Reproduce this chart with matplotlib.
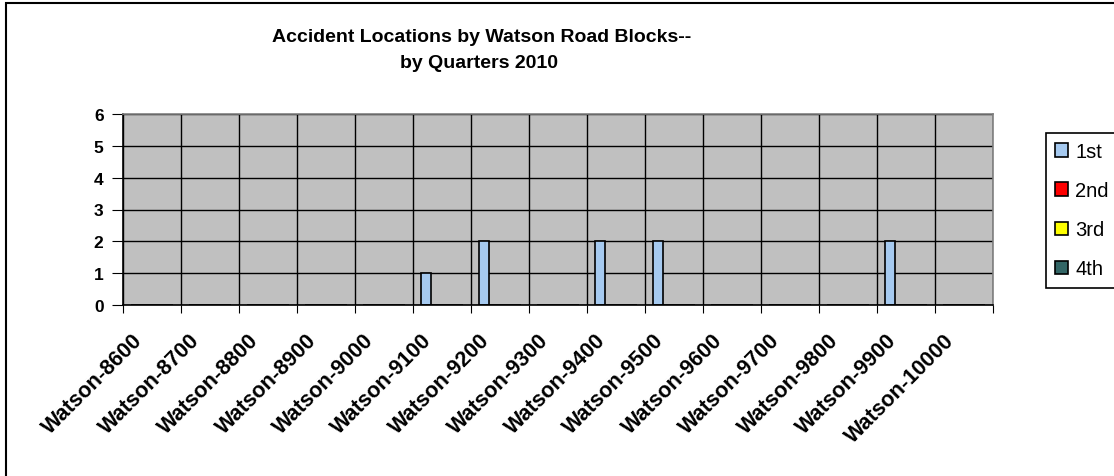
import numpy as np
import matplotlib
matplotlib.use("Agg")
import matplotlib.pyplot as plt
import matplotlib.transforms as mtransforms
from matplotlib.patches import Rectangle

plt.rcParams['font.family'] = ['Liberation Sans', 'DejaVu Sans']

blocks = ['Watson-8600', 'Watson-8700', 'Watson-8800', 'Watson-8900', 'Watson-9000',
          'Watson-9100', 'Watson-9200', 'Watson-9300', 'Watson-9400', 'Watson-9500',
          'Watson-9600', 'Watson-9700', 'Watson-9800', 'Watson-9900', 'Watson-10000']
quarters = ['1st', '2nd', '3rd', '4th']
q1 = [0, 0, 0, 0, 0, 1, 2, 0, 2, 2, 0, 0, 0, 2, 0]
q2 = [0] * 15
q3 = [0] * 15
q4 = [0] * 15
colors = ['#A6CAF0', '#FF0000', '#FFFF00', '#336666']

W, H = 1114, 477
fig = plt.figure(figsize=(W / 100, H / 100), dpi=100)
ax = fig.add_axes([123 / W, 1 - 306 / H, (993 - 123) / W, (306 - 115) / H])
ax.set_facecolor('#C0C0C0')

# chart outer border, cut off at right and bottom like the reference
fig.patches.append(Rectangle((6 / W, -0.1), 1.2, 1.1 - 4 / H, transform=fig.transFigure,
                             fill=False, edgecolor='black', linewidth=1.5))

x = np.arange(len(blocks))
n = len(quarters)
bw = 1 / (n + 1.5)
start = 0.75 * bw
for i, (name, vals) in enumerate(zip(quarters, [q1, q2, q3, q4])):
    ax.bar(x + start + i * bw, vals, width=bw, align='edge', color=colors[i],
           edgecolor='black', linewidth=1.2, label=name, zorder=3)

ax.set_xlim(0, len(blocks))
ax.set_ylim(0, 6)
ax.set_xticks(np.arange(len(blocks) + 1))
ax.set_xticklabels([])
ax.set_xticks(x + 0.5, minor=True)
ax.set_xticklabels(blocks, minor=True, rotation=45, ha='right', va='center',
                   rotation_mode='anchor', fontsize=15.5, fontweight='bold')
ax.tick_params(axis='x', which='minor', length=0, pad=23)
ax.tick_params(axis='x', which='major', length=6, direction='out', color='black')
ax.set_yticks(range(7))
ax.set_yticklabels([str(v) for v in range(7)], fontsize=12.5, fontweight='bold')
ax.tick_params(axis='y', length=8, direction='out', pad=6)
ax.grid(True, which='major', color='black', linewidth=1, zorder=1)
ax.set_axisbelow(True)

for side in ['top', 'right']:
    ax.spines[side].set_color('#808080')
ax.spines['left'].set_color('black')
ax.spines['bottom'].set_color('black')
for s in ax.spines.values():
    s.set_linewidth(1.2)
    s.set_zorder(4)

# category labels sit a bit left of the category centre
offset = mtransforms.ScaledTranslation(-13 / 100, 0, fig.dpi_scale_trans)
for lab in ax.get_xticklabels(minor=True):
    lab.set_transform(lab.get_transform() + offset)

fig.text(482 / W, 1 - 37 / H, 'Accident Locations by Watson Road Blocks--', ha='center',
         va='center', fontsize=14, fontweight='bold')
fig.text(479 / W, 1 - 63 / H, 'by Quarters 2010', ha='center', va='center',
         fontsize=14, fontweight='bold')

leg = fig.legend(loc='upper left', bbox_to_anchor=(1046 / W, 1 - 134 / H), fontsize=14.5,
                 frameon=True, fancybox=False, edgecolor='black', framealpha=1,
                 handlelength=0.65, handleheight=0.65, labelspacing=1.0,
                 handletextpad=0.35, borderpad=0.45, borderaxespad=0)
leg.get_frame().set_linewidth(1.2)

fig.savefig('out.png', dpi=100)
